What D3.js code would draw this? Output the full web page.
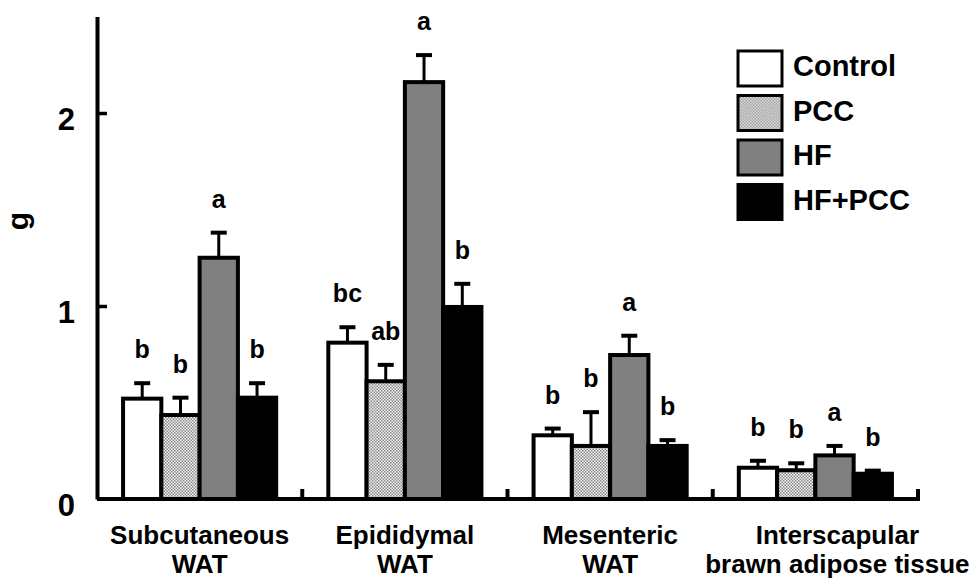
<!doctype html>
<html>
<head>
<meta charset="utf-8">
<script src="https://cdnjs.cloudflare.com/ajax/libs/d3/7.8.5/d3.min.js"></script>
<style>
  body { margin: 0; background: #fff; }
  svg text { font-family: "Liberation Sans", Arial, sans-serif; font-weight: bold; fill: #000; }
</style>
</head>
<body>
<svg id="chart" width="976" height="578"></svg>
<script>
// tissue groups (two text lines each)
var tissues = [
    ["Subcutaneous", "WAT"],
    ["Epididymal", "WAT"],
    ["Mesenteric", "WAT"],
    ["Interscapular", "brawn adipose tissue"]
];
var groups = ["Control", "PCC", "HF", "HF+PCC"];

// mean weight (g) per tissue
var controlMean = [0.52, 0.81, 0.33, 0.162];
var pccMean     = [0.435, 0.61, 0.275, 0.149];
var hfMean      = [1.25, 2.16, 0.746, 0.226];
var hfPccMean   = [0.525, 0.995, 0.275, 0.131];

// error (SEM)
var controlErr = [0.08, 0.08, 0.035, 0.036];
var pccErr     = [0.09, 0.085, 0.175, 0.036];
var hfErr      = [0.13, 0.14, 0.10, 0.049];
var hfPccErr   = [0.075, 0.12, 0.03, 0.016];

// significance letters
var controlSig = ["b", "bc", "b", "b"];
var pccSig     = ["b", "ab", "b", "b"];
var hfSig      = ["a", "a", "a", "a"];
var hfPccSig   = ["b", "b", "b", "b"];

var yTicks = [0, 1, 2];

var means = [controlMean, pccMean, hfMean, hfPccMean];
var errs = [controlErr, pccErr, hfErr, hfPccErr];
var sigs = [controlSig, pccSig, hfSig, hfPccSig];

var svg = d3.select("#chart");

// dotted fill for PCC bars
var defs = svg.append("defs");
var pat = defs.append("pattern")
    .attr("id", "dots")
    .attr("patternUnits", "userSpaceOnUse")
    .attr("width", 3).attr("height", 3);
pat.append("rect").attr("width", 3).attr("height", 3).attr("fill", "#f2f2f2");
pat.append("rect").attr("width", 1.5).attr("height", 1.5).attr("fill", "#8a8a8a");
pat.append("rect").attr("x", 1.5).attr("y", 1.5).attr("width", 1.5).attr("height", 1.5).attr("fill", "#8a8a8a");

var fills = d3.scaleOrdinal().domain(groups)
    .range(["#ffffff", "url(#dots)", "#808080", "#000000"]);

var x0 = 97, x1end = 918, yBase = 499, yTop = 16.5;

var x = d3.scaleBand()
    .domain(d3.range(tissues.length))
    .range([x0, x1end])
    .paddingInner(0.254)
    .paddingOuter(0.127);

var xs = d3.scaleBand()
    .domain(groups)
    .range([0, x.bandwidth()]);

var y = d3.scaleLinear().domain([0, 2.5]).range([yBase, yTop]);

// y axis, ticks pointing inward
var yAxis = d3.axisLeft(y)
    .tickValues(yTicks)
    .tickFormat(d3.format("d"))
    .tickSizeInner(-10)
    .tickSizeOuter(0)
    .tickPadding(22);

var gy = svg.append("g")
    .attr("transform", "translate(" + x0 + ",0)")
    .call(yAxis);
gy.select(".domain").attr("stroke", "#000").attr("stroke-width", 4);
gy.selectAll(".tick line").attr("stroke", "#000").attr("stroke-width", 3.5);
gy.selectAll(".tick").filter(function(d) { return d === 0; }).select("line").remove();
gy.selectAll(".tick text")
    .attr("font-size", 31)
    .attr("font-family", "Liberation Sans, Arial, sans-serif")
    .attr("font-weight", "bold")
    .attr("dy", 16.5)
    .attr("fill", "#000");

// y label
svg.append("text")
    .attr("transform", "translate(28,221) rotate(-90)")
    .attr("text-anchor", "middle")
    .attr("font-size", 30)
    .text("g");

// bars
var data = [];
tissues.forEach(function(t, i) {
    groups.forEach(function(g, j) {
        data.push({ i: i, g: g, v: means[j][i], e: errs[j][i], s: sigs[j][i] });
    });
});

var bars = svg.append("g");
bars.selectAll("rect")
    .data(data)
    .enter().append("rect")
    .attr("x", function(d) { return x(d.i) + xs(d.g); })
    .attr("y", function(d) { return y(d.v); })
    .attr("width", xs.bandwidth())
    .attr("height", function(d) { return yBase - y(d.v); })
    .attr("fill", function(d) { return fills(d.g); })
    .attr("stroke", "#000")
    .attr("stroke-width", 4);

// error bars (upper only)
var err = svg.append("g").attr("stroke", "#000");
err.selectAll("line.v")
    .data(data)
    .enter().append("line")
    .attr("class", "v")
    .attr("x1", function(d) { return x(d.i) + xs(d.g) + xs.bandwidth() / 2; })
    .attr("x2", function(d) { return x(d.i) + xs(d.g) + xs.bandwidth() / 2; })
    .attr("y1", function(d) { return y(d.v); })
    .attr("y2", function(d) { return y(d.v + d.e); })
    .attr("stroke-width", 3);
err.selectAll("line.cap")
    .data(data)
    .enter().append("line")
    .attr("class", "cap")
    .attr("x1", function(d) { return x(d.i) + xs(d.g) + xs.bandwidth() / 2 - 8; })
    .attr("x2", function(d) { return x(d.i) + xs(d.g) + xs.bandwidth() / 2 + 8; })
    .attr("y1", function(d) { return y(d.v + d.e); })
    .attr("y2", function(d) { return y(d.v + d.e); })
    .attr("stroke-width", 4);

// letters
svg.append("g").selectAll("text")
    .data(data)
    .enter().append("text")
    .attr("x", function(d) { return x(d.i) + xs(d.g) + xs.bandwidth() / 2; })
    .attr("y", function(d) { return y(d.v + d.e) - 25; })
    .attr("text-anchor", "middle")
    .attr("font-size", 25)
    .text(function(d) { return d.s; });

// x axis line with group separators
var sep = d3.range(1, tissues.length + 1).map(function(k) { return x0 + k * x.step(); });
svg.append("line")
    .attr("x1", x0).attr("x2", x1end + 2)
    .attr("y1", yBase).attr("y2", yBase)
    .attr("stroke", "#000").attr("stroke-width", 4);
svg.append("g").selectAll("line")
    .data(sep)
    .enter().append("line")
    .attr("x1", function(d) { return d; })
    .attr("x2", function(d) { return d; })
    .attr("y1", yBase)
    .attr("y2", yBase - 10)
    .attr("stroke", "#000").attr("stroke-width", 4);

// category labels
var lab = svg.append("g").selectAll("text")
    .data(tissues)
    .enter().append("text")
    .attr("text-anchor", "middle")
    .attr("font-size", 26)
    .attr("transform", function(d, i) {
        var dx = i === tissues.length - 1 ? 22 : 0;
        return "translate(" + (x(i) + x.bandwidth() / 2 + dx) + ",544)";
    });
lab.selectAll("tspan")
    .data(function(d) { return d; })
    .enter().append("tspan")
    .attr("x", 0)
    .attr("y", function(d, k) { return k * 29; })
    .text(function(d) { return d; });

// legend
var leg = svg.append("g").attr("transform", "translate(738,51)");
var row = leg.selectAll("g")
    .data(groups)
    .enter().append("g")
    .attr("transform", function(d, i) { return "translate(0," + i * 44.5 + ")"; });
row.append("rect")
    .attr("width", 44).attr("height", 35)
    .attr("fill", function(d) { return fills(d); })
    .attr("stroke", "#000").attr("stroke-width", 3);
row.append("text")
    .attr("x", 55).attr("y", 25)
    .attr("font-size", 29)
    .text(function(d) { return d; });
</script>
</body>
</html>
